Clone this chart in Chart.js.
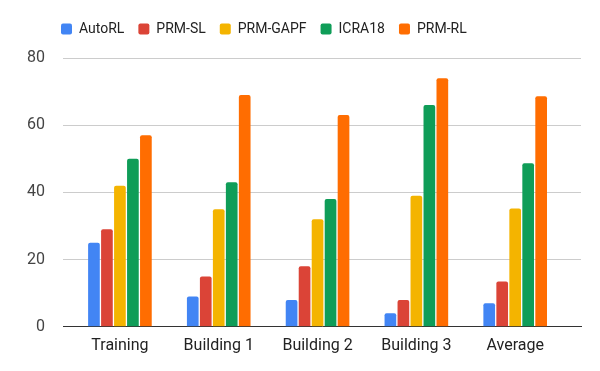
<!DOCTYPE html>
<html>
<head>
<meta charset="utf-8">
<script src="https://cdn.jsdelivr.net/npm/chart.js@4"></script>
<style>
  html, body { margin: 0; padding: 0; background: #fff; }
</style>
</head>
<body>
<canvas id="myChart" width="600" height="371"></canvas>
<script>
var categories = ['Training', 'Building 1', 'Building 2', 'Building 3', 'Average'];
var seriesNames = ['AutoRL', 'PRM-SL', 'PRM-GAPF', 'ICRA18', 'PRM-RL'];
var autoRL   = [25, 9, 8, 4, 7];
var prmSL    = [29, 15, 18, 8, 13.5];
var prmGAPF  = [42, 35, 32, 39, 35.2];
var icra18   = [50, 43, 38, 66, 48.7];
var prmRL    = [57, 69, 63, 74, 68.6];
var yTicks = [0, 20, 40, 60, 80];
var colors = ['#4285F4', '#DB4437', '#F4B400', '#0F9D58', '#FF6D01'];

var allSeries = [autoRL, prmSL, prmGAPF, icra18, prmRL];

// 建立 datasets
var datasets = allSeries.map(function (vals, i) {
    return {
        label: seriesNames[i],
        data: vals,
        backgroundColor: colors[i],
        borderWidth: 0,
        borderRadius: { topLeft: 2, topRight: 2 },
        borderSkipped: 'bottom',
        barPercentage: 0.9,
        categoryPercentage: 0.657
    };
});

// 圖例下方多留一點空間，並往右移
var legendGap = {
    id: 'legendGap',
    beforeInit: function (chart) {
        var orig = chart.legend.fit;
        chart.legend.fit = function () {
            orig.call(this);
            this.height += 12;
        };
    },
    afterLayout: function (chart) {
        chart.legend.left += 47;
    }
};

const ctx = document.getElementById('myChart');
const mychart = new Chart(ctx, {
    type: 'bar',
    data: {
        labels: categories,
        datasets: datasets
    },
    plugins: [legendGap],
    options: {
        responsive: false,
        animation: false,
        maintainAspectRatio: false,
        layout: {
            padding: { left: 0, right: 19, top: 8, bottom: 13 }
        },
        plugins: {
            legend: {
                position: 'top',
                align: 'start',
                labels: {
                    boxWidth: 11,
                    boxHeight: 11,
                    useBorderRadius: true,
                    borderRadius: 2,
                    padding: 14,
                    color: '#222',
                    font: { family: 'Roboto', size: 14 }
                }
            },
            tooltip: { enabled: false }
        },
        scales: {
            x: {
                // 類別兩側多留一點空白（跟原圖一樣）
                afterBuildTicks: function (axis) {
                    axis._startValue = -0.576;
                    axis._valueRange = 5.242;
                },
                grid: { display: false },
                border: { display: true, color: '#333', width: 1 },
                ticks: {
                    color: '#222',
                    padding: 2,
                    maxRotation: 0,
                    font: { family: 'Roboto', size: 16 }
                }
            },
            y: {
                min: 0,
                max: 80,
                afterBuildTicks: function (axis) {
                    axis.ticks = yTicks.map(function (v) { return { value: v }; });
                },
                afterFit: function (axis) { axis.width = 63; },
                grid: { color: '#cccccc', drawTicks: false },
                border: { display: false },
                ticks: {
                    color: '#444',
                    padding: 18,
                    font: { family: 'Roboto', size: 16 }
                }
            }
        }
    }
});
mychart.update();
</script>
</body>
</html>
